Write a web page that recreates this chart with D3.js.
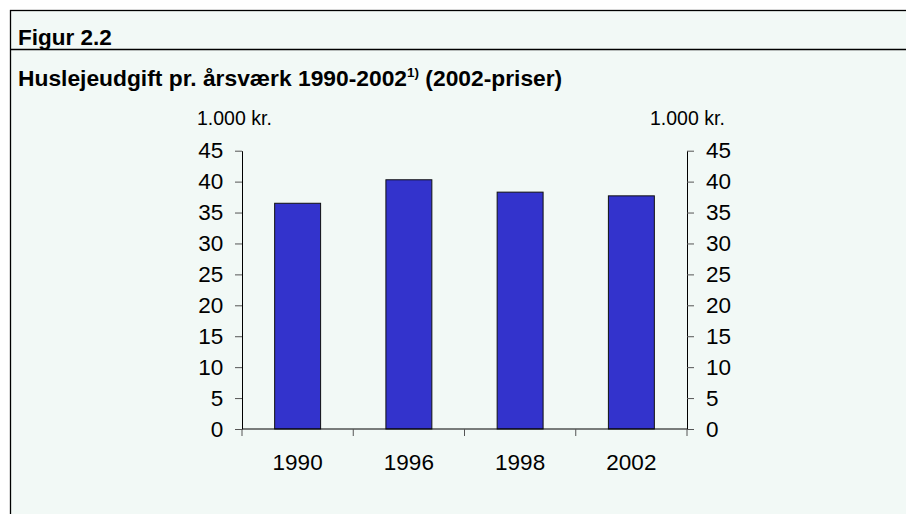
<!DOCTYPE html>
<html>
<head>
<meta charset="utf-8">
<script src="https://cdn.jsdelivr.net/npm/d3@7"></script>
<style>
  body { margin: 0; background: #fff; }
  svg { display: block; font-family: "Liberation Sans", Arial, sans-serif; }
</style>
</head>
<body>
<div id="chart"></div>
<script>
// data
var years = ["1990", "1996", "1998", "2002"];
var rent = [36.5, 40.3, 38.3, 37.7];
var yTicks = [0, 5, 10, 15, 20, 25, 30, 35, 40, 45];
var unitLabel = "1.000 kr.";
var figLabel = "Figur 2.2";
var titleMain = "Huslejeudgift pr. årsværk 1990-2002";
var titleNote = "1)";
var titleTail = " (2002-priser)";

var W = 906, H = 514;

var svg = d3.select("#chart")
  .append("svg")
  .attr("width", W)
  .attr("height", H);

// panel
svg.append("rect")
  .attr("x", 10.5)
  .attr("y", 10.5)
  .attr("width", 920)
  .attr("height", 540)
  .style("fill", "#f2f9f6")
  .style("stroke", "#000")
  .style("stroke-width", 1.3);

svg.append("line")
  .attr("x1", 10).attr("x2", W)
  .attr("y1", 49.5).attr("y2", 49.5)
  .style("stroke", "#000")
  .style("stroke-width", 1.3);

svg.append("text")
  .attr("x", 18)
  .attr("y", 45)
  .style("font-size", "22.5px")
  .style("font-weight", "bold")
  .text(figLabel);

var t = svg.append("text")
  .attr("x", 18)
  .attr("y", 86)
  .style("font-size", "22.8px")
  .style("font-weight", "bold");
t.append("tspan").text(titleMain);
t.append("tspan").attr("dy", -9).style("font-size", "13.5px").text(titleNote);
t.append("tspan").attr("dy", 9).text(titleTail);

// scales
var x = d3.scaleBand()
  .domain(years)
  .range([242, 687])
  .paddingInner(0.587)
  .paddingOuter(0.2935);

var y = d3.scaleLinear()
  .domain([0, 45])
  .range([429, 150.7]);

// bars
svg.selectAll("rect.bar")
  .data(rent)
  .enter()
  .append("rect")
  .attr("class", "bar")
  .attr("x", function(d, i) { return x(years[i]); })
  .attr("y", function(d) { return y(d); })
  .attr("width", x.bandwidth())
  .attr("height", function(d) { return y(0) - y(d); })
  .style("fill", "#3333cc")
  .style("stroke", "#111")
  .style("stroke-width", 1);

// left axis
var left = svg.append("g")
  .attr("transform", "translate(242,0)")
  .call(d3.axisLeft(y).tickValues(yTicks).tickSize(7).tickSizeOuter(0));
left.selectAll("text").attr("x", -18.7);

// right axis
var right = svg.append("g")
  .attr("transform", "translate(687,0)")
  .call(d3.axisRight(y).tickValues(yTicks).tickSize(7).tickSizeOuter(0));
right.selectAll("text").attr("x", 19);

[left, right].forEach(function(g) {
  g.select(".domain").style("stroke", "#000");
  g.selectAll(".tick line").style("stroke", "#555");
  g.selectAll("text")
    .style("fill", "#000")
    .style("font-size", "22.5px")
    .style("font-family", "Liberation Sans, Arial, sans-serif");
});

// category axis: line at zero, ticks between the categories
var edges = [x.range()[0]].concat(years.map(function(d) { return x(d) - x.step() * x.paddingInner() / 2 + x.step(); }));
svg.append("line")
  .attr("x1", 242).attr("x2", 687)
  .attr("y1", y(0)).attr("y2", y(0))
  .style("stroke", "#000");
svg.selectAll("line.cat")
  .data(edges)
  .enter()
  .append("line")
  .attr("class", "cat")
  .attr("x1", function(d) { return d; })
  .attr("x2", function(d) { return d; })
  .attr("y1", y(0))
  .attr("y2", y(0) + 7)
  .style("stroke", "#555");
svg.selectAll("text.cat")
  .data(years)
  .enter()
  .append("text")
  .attr("class", "cat")
  .attr("x", function(d) { return x(d) + x.bandwidth() / 2; })
  .attr("y", 470)
  .attr("text-anchor", "middle")
  .style("font-size", "22.5px")
  .text(function(d) { return d; });

// unit labels
svg.append("text").attr("x", 197).attr("y", 125)
  .style("font-size", "19.5px").text(unitLabel);
svg.append("text").attr("x", 650).attr("y", 125)
  .style("font-size", "19.5px").text(unitLabel);
</script>
</body>
</html>
